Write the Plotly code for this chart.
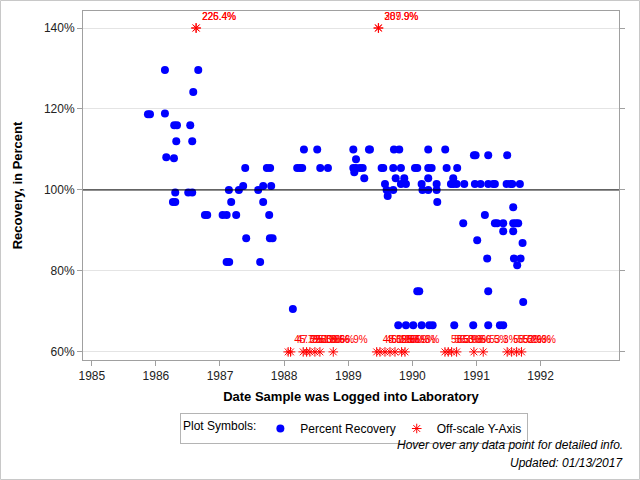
import plotly.graph_objects as go
import pandas as pd

# ---- data (decimal year of log-in date, percent recovery) ----
rec_year = [
    1985.876, 1985.908, 1986.141, 1986.141, 1986.162, 1986.282, 1986.286, 1986.329,
    1986.318, 1986.536, 1986.567, 1986.583, 1986.661, 1986.302, 1986.266, 1986.302,
    1986.505, 1986.567, 1986.765, 1986.801, 1987.041, 1987.104, 1987.253, 1987.175,
    1987.139, 1987.295, 1987.362, 1987.394, 1987.596, 1987.674, 1987.674, 1987.732,
    1987.783, 1987.799, 1987.768, 1987.409, 1987.779, 1987.821, 1987.104, 1987.144,
    1987.627, 1988.137, 1988.204, 1988.247, 1988.282, 1988.309, 1988.516, 1988.563,
    1988.683,
    1989.078, 1989.322, 1989.338, 1989.712, 1989.795, 1990.247, 1990.512,
    1989.120, 1989.078, 1989.120, 1989.182, 1989.224, 1989.093, 1989.249,
    1989.520, 1989.545, 1989.701, 1989.821, 1990.040, 1990.076, 1990.247, 1990.300,
    1990.534, 1990.699, 1990.960, 1990.986, 1991.183, 1991.479,
    1989.739, 1989.873, 1990.247, 1990.637,
    1989.572, 1989.821, 1989.899, 1990.144, 1990.378, 1990.601, 1990.637, 1990.690,
    1990.809, 1990.975, 1991.064, 1991.183, 1991.261, 1991.287, 1991.470, 1991.532,
    1991.557, 1991.677,
    1989.598, 1989.701, 1990.157, 1990.247, 1990.378, 1989.614, 1990.388,
    1991.131, 1991.573, 1990.793, 1991.287, 1991.323, 1991.417, 1991.573, 1991.615,
    1991.651, 1991.417, 1991.573, 1991.011, 1991.719, 1991.167, 1991.584, 1991.688,
    1991.635, 1990.076, 1990.107, 1991.183, 1991.729,
    1989.779, 1989.899, 1990.013, 1990.144, 1990.263, 1990.316, 1990.653, 1990.949,
    1991.183, 1991.365, 1991.417,
]
rec_pct = [
    118.7, 118.7, 129.6, 118.9, 108.1, 107.8, 116.0, 116.0,
    112.0, 116.0, 112.0, 124.2, 129.6, 99.4, 97.0, 97.0,
    99.4, 99.4, 93.8, 93.8, 93.8, 93.8, 93.8, 97.0,
    100.0, 100.0, 101.0, 105.4, 100.0, 101.0, 97.0, 105.4,
    105.4, 101.0, 93.8, 88.1, 88.1, 88.1, 82.2, 82.2,
    82.2, 70.6, 105.4, 105.4, 105.4, 110.0, 110.0, 105.4,
    105.4,
    110.0, 110.0, 110.0, 110.0, 110.0, 110.0, 110.0,
    107.6, 105.4, 105.4, 105.4, 105.4, 104.4, 102.9,
    105.4, 105.4, 105.4, 105.4, 105.4, 105.4, 105.4, 105.4,
    105.4, 105.4, 108.6, 108.6, 108.6, 108.6,
    102.9, 102.9, 102.9, 102.9,
    101.5, 101.5, 101.5, 101.5, 101.5, 101.5, 101.5, 101.5,
    101.5, 101.5, 101.5, 101.5, 101.5, 101.5, 101.5, 101.5,
    101.5, 101.5,
    100.0, 100.0, 100.0, 100.0, 100.0, 98.5, 97.0,
    93.8, 95.7, 91.8, 91.8, 91.8, 91.8, 91.8, 91.8,
    91.8, 89.8, 89.8, 87.6, 86.9, 83.1, 83.1, 83.1,
    81.4, 75.0, 75.0, 75.0, 72.3,
    66.6, 66.6, 66.6, 66.6, 66.6, 66.6, 66.6, 66.6,
    66.6, 66.6, 66.6,
]

# off-scale samples: plotted at the axis limit, labelled with true value
off_year = [1986.625, 1986.630, 1989.468, 1989.472,
            1988.064, 1988.101, 1988.298, 1988.351, 1988.402, 1988.480, 1988.558, 1988.766,
            1989.443, 1989.494, 1989.572, 1989.650, 1989.728, 1989.832, 1989.884,
            1990.508, 1990.559, 1990.612, 1990.690, 1990.960, 1991.105,
            1991.479, 1991.548, 1991.626, 1991.703]
off_plot = [140, 140, 140, 140,
            60, 60, 60, 60, 60, 60, 60, 60,
            60, 60, 60, 60, 60, 60, 60,
            60, 60, 60, 60, 60, 60,
            60, 60, 60, 60]
off_label = ["226.4%", "225.4%", "307.9%", "289.9%",
             "45.7%", "47.2%", "52.1%", "55.0%", "57.3%", "50.8%", "58.6%", "56.9%",
             "48.0%", "46.1%", "51.2%", "52.8%", "55.5%", "57.9%", "50.3%",
             "58.3%", "56.8%", "55.9%", "53.3%", "56.5%", "53.3%",
             "58.0%", "55.2%", "52.9%", "56.3%"]

y_ticks = [60, 80, 100, 120, 140]
y_tick_labels = ["60%", "80%", "100%", "120%", "140%"]
x_tick_years = [1985, 1986, 1987, 1988, 1989, 1990, 1991, 1992]


def to_date(v):
    y = int(v)
    start = pd.Timestamp(year=y, month=1, day=1)
    end = pd.Timestamp(year=y + 1, month=1, day=1)
    return start + (end - start) * (v - y)


rec_dates = [to_date(v) for v in rec_year]
off_dates = [to_date(v) for v in off_year]

FONT = "Arial, Liberation Sans, sans-serif"

fig = go.Figure()
fig.add_trace(go.Scatter(
    x=rec_dates, y=rec_pct, mode="markers", showlegend=False,
    marker=dict(symbol="circle", size=8, color="#0000FF"),
    hovertemplate="%{x|%m/%d/%Y}<br>Recovery: %{y:.1f}%<extra></extra>",
))
fig.add_trace(go.Scatter(
    x=off_dates, y=off_plot, mode="markers+text", showlegend=False,
    text=off_label, textposition="top right",
    textfont=dict(family=FONT, size=10, color="#FF0000"),
    marker=dict(symbol="asterisk-open", size=8, color="#FF0000",
                line=dict(color="#FF0000", width=1)),
    hovertemplate="%{x|%m/%d/%Y}<br>Recovery: %{text}<extra></extra>",
    cliponaxis=False,
))
# legend entries
fig.add_trace(go.Scatter(
    x=[None], y=[None], mode="markers", name="Percent Recovery",
    marker=dict(symbol="circle", size=8, color="#0000FF"),
))
fig.add_trace(go.Scatter(
    x=[None], y=[None], mode="markers", name="Off-scale Y-Axis",
    marker=dict(symbol="asterisk-open", size=8, color="#FF0000",
                line=dict(color="#FF0000", width=1)),
))

plot_l, plot_r, plot_t, plot_b = 83, 619, 11, 360
pw, ph = plot_r - plot_l, plot_b - plot_t


def px(xp):
    return (xp - plot_l) / pw


def py(yp):
    return (plot_b - yp) / ph


fig.update_layout(
    width=640, height=480,
    margin=dict(l=plot_l, r=640 - plot_r, t=plot_t, b=480 - plot_b, pad=0),
    paper_bgcolor="white", plot_bgcolor="white",
    font=dict(family=FONT, size=12, color="#222222"),
    xaxis=dict(
        type="date",
        range=[to_date(1984.863), to_date(1993.221)],
        tickvals=[pd.Timestamp(year=y, month=1, day=1) for y in x_tick_years],
        ticktext=[str(y) for y in x_tick_years],
        ticks="outside", ticklen=5, tickcolor="#a0a0a0",
        showgrid=False, zeroline=False,
        showline=True, linecolor="#a0a0a0", mirror=True,
        tickfont=dict(size=12, color="#222222"),
        title=dict(text="<b>Date Sample was Logged into Laboratory</b>",
                   font=dict(size=13, color="#000000"), standoff=9),
    ),
    yaxis=dict(
        range=[58, 144.2],
        tickvals=y_ticks, ticktext=y_tick_labels,
        ticks="outside", ticklen=5, tickcolor="#a0a0a0",
        showgrid=True, gridcolor="#e4e4e4", zeroline=False,
        showline=True, linecolor="#a0a0a0", mirror="ticks",
        tickfont=dict(size=12, color="#222222"),
        title=dict(text="<b>Recovery, in Percent</b>",
                   font=dict(size=13, color="#000000"), standoff=18),
    ),
    legend=dict(
        orientation="h", x=px(180), xanchor="left", y=py(413), yanchor="top",
        bordercolor="#b4b4b4", borderwidth=1, bgcolor="white",
        font=dict(size=12, color="#000000"),
        title=dict(text="Plot Symbols:", font=dict(size=12, color="#000000")),
        itemwidth=30, tracegroupgap=0, indentation=-4,
    ),
    shapes=[
        dict(type="line", xref="paper", yref="y", x0=0, x1=1, y0=100, y1=100,
             line=dict(color="#000000", width=1)),
        dict(type="rect", xref="paper", yref="paper",
             x0=px(0.5), x1=px(639.5), y0=py(479.5), y1=py(0.5),
             line=dict(color="#c8c8c8", width=1)),
    ],
    annotations=[
        dict(text="Hover over any data point for detailed info.", xref="paper", yref="paper",
             x=px(625), y=py(445), xanchor="right", yanchor="middle", showarrow=False,
             font=dict(size=12, color="#000000", style="italic")),
        dict(text="Updated: 01/13/2017", xref="paper", yref="paper",
             x=px(625), y=py(463), xanchor="right", yanchor="middle", showarrow=False,
             font=dict(size=12, color="#000000", style="italic")),
    ],
)

fig.write_html("out.html")
